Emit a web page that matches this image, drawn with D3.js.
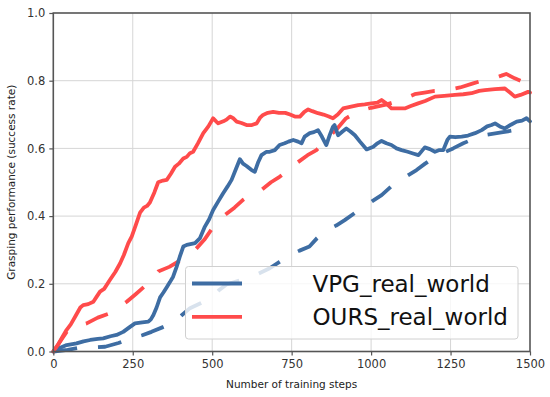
<!DOCTYPE html>
<html>
<head>
<meta charset="utf-8">
<script src="https://cdn.jsdelivr.net/npm/d3@7"></script>
<style>
    body { margin: 0; background: #fff; }
    svg { display: block; font-family: "DejaVu Sans", sans-serif; }
</style>
</head>
<body>
<div id="chart"></div>
<script>
// Data: [training step, success rate]
const xTicks = [0, 250, 500, 750, 1000, 1250, 1500];
const yTicks = [0, 0.2, 0.4, 0.6, 0.8, 1.0];
const legendLabels = ['VPG_real_world', 'OURS_real_world'];

const vpgSolid = [
    [0, 0], [20, 0.01], [42, 0.019], [60, 0.022], [73, 0.024], [95, 0.03], [116, 0.034],
    [140, 0.037], [157, 0.039], [180, 0.045], [199, 0.049], [220, 0.058], [236, 0.069],
    [257, 0.083], [280, 0.086], [299, 0.088], [307, 0.095], [315, 0.108], [325, 0.13],
    [336, 0.16], [347, 0.175], [357, 0.19], [367, 0.205], [377, 0.221], [388, 0.25],
    [398, 0.28], [409, 0.31], [420, 0.315], [435, 0.318], [446, 0.32], [461, 0.334],
    [477, 0.369], [490, 0.39], [503, 0.418], [520, 0.445], [534, 0.467], [548, 0.487],
    [561, 0.507], [575, 0.54], [587, 0.568], [597, 0.555], [608, 0.548], [624, 0.536],
    [634, 0.531], [645, 0.56], [655, 0.58], [671, 0.59], [681, 0.59], [697, 0.595],
    [712, 0.61], [728, 0.615], [740, 0.62], [755, 0.625], [770, 0.62], [781, 0.615],
    [791, 0.635], [807, 0.645], [820, 0.648], [833, 0.654], [845, 0.635], [859, 0.61],
    [870, 0.64], [880, 0.664], [885, 0.669], [896, 0.639], [910, 0.65], [922, 0.659],
    [935, 0.65], [949, 0.639], [965, 0.62], [986, 0.597], [1007, 0.605], [1020, 0.615],
    [1033, 0.622], [1048, 0.615], [1064, 0.61], [1080, 0.6], [1096, 0.595], [1115, 0.59],
    [1132, 0.585], [1149, 0.58], [1169, 0.603], [1185, 0.598], [1201, 0.59], [1215, 0.595],
    [1227, 0.595], [1240, 0.625], [1248, 0.635], [1265, 0.633], [1285, 0.635], [1305, 0.638],
    [1327, 0.645], [1348, 0.654], [1365, 0.665], [1379, 0.669], [1390, 0.674], [1405, 0.665],
    [1421, 0.659], [1440, 0.67], [1458, 0.679], [1475, 0.682], [1489, 0.689], [1500, 0.68]
];

const vpgDashed = [
    [0, 0], [45, 0.005], [89, 0.012], [125, 0.012], [163, 0.014], [205, 0.025], [247, 0.039],
    [280, 0.048], [309, 0.058], [345, 0.072], [383, 0.088], [405, 0.108], [430, 0.128],
    [465, 0.143], [500, 0.16], [520, 0.18], [545, 0.198], [580, 0.208], [618, 0.218],
    [650, 0.232], [681, 0.246], [712, 0.265], [744, 0.285], [775, 0.298], [806, 0.31],
    [830, 0.335], [859, 0.359], [890, 0.372], [917, 0.388], [950, 0.41], [980, 0.428],
    [1005, 0.445], [1033, 0.462], [1060, 0.485], [1085, 0.507], [1115, 0.52], [1143, 0.536],
    [1170, 0.555], [1201, 0.575], [1230, 0.588], [1258, 0.6], [1290, 0.615], [1327, 0.63],
    [1345, 0.635], [1363, 0.64], [1410, 0.647], [1452, 0.654], [1480, 0.665], [1500, 0.67]
];

const oursSolid = [
    [0, 0], [15, 0.02], [30, 0.045], [42, 0.064], [55, 0.08], [70, 0.105], [85, 0.13],
    [94, 0.137], [110, 0.14], [126, 0.147], [135, 0.16], [147, 0.177], [160, 0.185],
    [178, 0.211], [195, 0.235], [210, 0.26], [222, 0.285], [236, 0.32], [247, 0.34],
    [260, 0.375], [273, 0.41], [285, 0.425], [295, 0.43], [304, 0.44], [318, 0.47],
    [330, 0.5], [345, 0.505], [357, 0.507], [370, 0.525], [383, 0.546], [395, 0.555],
    [409, 0.57], [420, 0.575], [430, 0.586], [440, 0.59], [455, 0.615], [472, 0.645],
    [488, 0.665], [503, 0.689], [512, 0.68], [519, 0.674], [535, 0.68], [545, 0.685],
    [556, 0.694], [565, 0.69], [577, 0.679], [592, 0.675], [608, 0.669], [625, 0.669],
    [640, 0.674], [650, 0.69], [660, 0.699], [675, 0.705], [692, 0.708], [710, 0.705],
    [730, 0.705], [745, 0.7], [760, 0.694], [776, 0.694], [790, 0.708], [802, 0.715],
    [815, 0.71], [833, 0.704], [850, 0.7], [865, 0.695], [880, 0.689], [895, 0.7],
    [912, 0.718], [930, 0.722], [959, 0.728], [980, 0.73], [1001, 0.733], [1020, 0.735],
    [1033, 0.743], [1045, 0.735], [1064, 0.718], [1080, 0.718], [1106, 0.718], [1125, 0.725],
    [1148, 0.733], [1170, 0.74], [1201, 0.753], [1230, 0.755], [1264, 0.758], [1290, 0.76],
    [1316, 0.763], [1340, 0.77], [1358, 0.772], [1390, 0.775], [1421, 0.777], [1437, 0.765],
    [1452, 0.753], [1470, 0.758], [1494, 0.767], [1500, 0.765]
];

const oursDashed = [
    [0, 0], [45, 0.062], [75, 0.075], [105, 0.083], [140, 0.1], [178, 0.113], [205, 0.13],
    [231, 0.147], [260, 0.17], [288, 0.193], [310, 0.215], [330, 0.236], [365, 0.25],
    [398, 0.268], [420, 0.28], [446, 0.3], [475, 0.33], [498, 0.361], [520, 0.385],
    [540, 0.403], [570, 0.425], [597, 0.448], [625, 0.465], [655, 0.477], [685, 0.5],
    [712, 0.516], [740, 0.535], [765, 0.556], [800, 0.58], [828, 0.595], [850, 0.615],
    [869, 0.635], [895, 0.66], [921, 0.689], [960, 0.71], [1000, 0.72], [1050, 0.73],
    [1100, 0.745], [1137, 0.76], [1168, 0.765], [1200, 0.77], [1237, 0.772], [1280, 0.78],
    [1321, 0.792], [1350, 0.8], [1384, 0.807], [1410, 0.815], [1425, 0.82], [1452, 0.807],
    [1470, 0.8]
];

// Configuration
const CONFIG = {
    width: 550,
    height: 397,
    margin: { top: 13, right: 20, bottom: 45.5, left: 53.3 },
    blue: '#3e6da3',
    red: '#ff4b4b',
    lineWidth: 3.8,
    dash: '24,21'
};

const innerW = CONFIG.width - CONFIG.margin.left - CONFIG.margin.right;
const innerH = CONFIG.height - CONFIG.margin.top - CONFIG.margin.bottom;

const svg = d3.select('#chart')
    .append('svg')
    .attr('width', CONFIG.width)
    .attr('height', CONFIG.height);

const g = svg.append('g')
    .attr('transform', `translate(${CONFIG.margin.left},${CONFIG.margin.top})`);

const x = d3.scaleLinear().domain([0, 1500]).range([0, innerW]);
const y = d3.scaleLinear().domain([0, 1]).range([innerH, 0]);

// Grid
g.append('g')
    .selectAll('line')
    .data(xTicks.slice(1, -1))
    .enter().append('line')
    .attr('x1', d => x(d)).attr('x2', d => x(d))
    .attr('y1', 0).attr('y2', innerH)
    .attr('stroke', '#d6d6d6')
    .attr('stroke-width', 1);

g.append('g')
    .selectAll('line')
    .data(yTicks.slice(1, -1))
    .enter().append('line')
    .attr('x1', 0).attr('x2', innerW)
    .attr('y1', d => y(d)).attr('y2', d => y(d))
    .attr('stroke', '#d6d6d6')
    .attr('stroke-width', 1);

// Lines
const line = d3.line()
    .x(d => x(d[0]))
    .y(d => y(d[1]));

const series = [
    { data: vpgDashed, color: CONFIG.blue, dashed: true },
    { data: oursDashed, color: CONFIG.red, dashed: true },
    { data: vpgSolid, color: CONFIG.blue, dashed: false },
    { data: oursSolid, color: CONFIG.red, dashed: false }
];

g.append('g')
    .selectAll('path')
    .data(series)
    .enter().append('path')
    .attr('d', d => line(d.data))
    .attr('fill', 'none')
    .attr('stroke', d => d.color)
    .attr('stroke-width', CONFIG.lineWidth)
    .attr('stroke-linejoin', 'round')
    .attr('stroke-linecap', d => d.dashed ? 'butt' : 'round')
    .attr('stroke-dasharray', d => d.dashed ? CONFIG.dash : null);

// Axes
const xAxis = g.append('g')
    .attr('transform', `translate(0,${innerH})`)
    .call(d3.axisBottom(x).tickValues(xTicks).tickFormat(d3.format('d')).tickSize(4).tickPadding(4));

const yAxis = g.append('g')
    .call(d3.axisLeft(y).tickValues(yTicks).tickFormat(d3.format('.1f')).tickSize(4).tickPadding(4));

[xAxis, yAxis].forEach(ax => {
    ax.select('.domain').remove();
    ax.selectAll('line').attr('stroke', '#555').attr('stroke-width', 1.2);
    ax.selectAll('text')
        .style('font-size', '11.5px')
        .style('fill', '#333')
        .style('font-family', '"DejaVu Sans", sans-serif');
});

// Frame
g.append('rect')
    .attr('width', innerW)
    .attr('height', innerH)
    .attr('fill', 'none')
    .attr('stroke', '#555')
    .attr('stroke-width', 1.6);

// Axis labels
svg.append('text')
    .attr('x', CONFIG.margin.left + innerW / 2)
    .attr('y', 388)
    .attr('text-anchor', 'middle')
    .style('font-size', '10.5px')
    .style('fill', '#222')
    .text('Number of training steps');

svg.append('text')
    .attr('transform', `translate(14.5,${CONFIG.margin.top + innerH / 2}) rotate(-90)`)
    .attr('text-anchor', 'middle')
    .style('font-size', '10.5px')
    .style('fill', '#222')
    .text('Grasping performance (success rate)');

// Legend
const legend = svg.append('g').attr('transform', 'translate(185.5,266.5)');

legend.append('rect')
    .attr('width', 332.5)
    .attr('height', 72.5)
    .attr('rx', 3)
    .attr('fill', '#fff')
    .attr('fill-opacity', 0.8)
    .attr('stroke', '#d0d0d0')
    .attr('stroke-width', 1);

const legendColors = [CONFIG.blue, CONFIG.red];

legendLabels.forEach((label, i) => {
    const yy = 17 + i * 33.4;
    legend.append('line')
        .attr('x1', 6.5).attr('x2', 56.5)
        .attr('y1', yy).attr('y2', yy)
        .attr('stroke', legendColors[i])
        .attr('stroke-width', CONFIG.lineWidth);
    legend.append('text')
        .attr('x', 127)
        .attr('y', yy + 8)
        .style('font-size', '23px')
        .style('fill', '#111')
        .text(label);
});
</script>
</body>
</html>
